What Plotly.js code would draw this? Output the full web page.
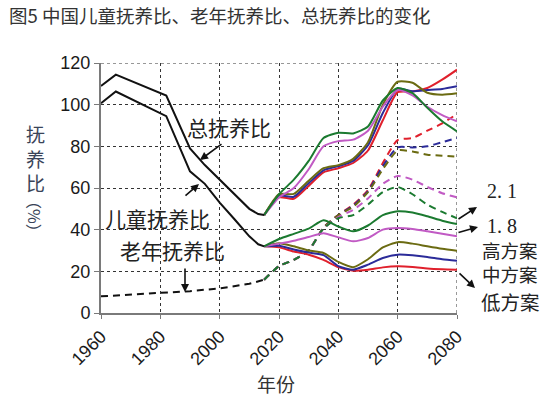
<!DOCTYPE html>
<html>
<head>
<meta charset="utf-8">
<script src="https://cdn.plot.ly/plotly-3.0.1.min.js"></script>
<style>html,body{margin:0;padding:0;background:#fff;}#chart{width:555px;height:398px;}</style>
</head>
<body>
<div id="chart"></div>
<script>
// ---- historical data ----
const histYears = [1960, 1965, 1982, 1990, 1995, 2000, 2005, 2010, 2013, 2015];
const histTotal = [109, 114.4, 104.4, 79, 71, 64, 57, 50, 47.5, 47];
const histChild = [100.7, 106.3, 94.5, 68, 62, 53, 45, 36.8, 33, 32];
const oldYears  = [1960, 1970, 1982, 1990, 2000, 2005, 2010, 2015];
const histOld   = [8, 8.8, 9.8, 10.5, 11.8, 12.8, 14, 16];

// ---- projections ----
const projYears = [2015, 2020, 2025, 2030, 2035, 2040, 2045, 2050, 2055, 2060, 2065, 2070, 2075, 2080];
const scenarioNames  = ['低方案', '中方案', '高方案', '1.8', '2.1'];
const scenarioColors = ['#e0202c', '#2b2b99', '#6b6b12', '#c15ac4', '#1b7a30'];

const totalLow  = [47, 55.5, 54.8, 61, 67.5, 69.5, 72, 78, 92.5, 106, 106.3, 108, 112, 116.8];
const totalMid  = [47, 56.3, 55.8, 62.3, 68.5, 70.5, 73, 80.5, 96, 107.5, 106.5, 107, 107.5, 108.8];
const totalHigh = [47, 57, 57.2, 63.5, 69.5, 71, 74, 82, 100, 111, 110.5, 105.7, 104.8, 105.5];
const total18   = [47, 55.5, 60, 69, 80, 82.5, 83.2, 87.5, 99, 107, 104.5, 99, 95, 92];
const total21   = [47, 57, 64, 73, 84, 86.5, 86.2, 89.5, 102, 108, 105.5, 98.5, 92, 87.2];

const childLow  = [32, 31.5, 29.5, 28, 25.5, 22, 20.3, 20.8, 21.9, 22.4, 22.1, 21.4, 21, 20.8];
const childMid  = [32, 32.3, 30.5, 29, 27.8, 22.5, 20.8, 23.2, 26.4, 28, 27.7, 26.9, 25.8, 25.1];
const childHigh = [32, 33.5, 32, 30, 28.8, 24.5, 22, 25.8, 31.5, 34, 33.3, 32, 30.8, 29.9];
const child18   = [32, 33.3, 34.7, 36.5, 38.3, 36.3, 34.4, 36, 40, 40.8, 40.3, 39.2, 38, 36.8];
const child21   = [32, 35.5, 38, 40.5, 44.5, 41.5, 39.2, 42, 47, 48.8, 48.2, 46.4, 44.3, 42.7];

const oldLow  = [16, 22.5, 25.5, 30, 41, 47, 52, 59, 72, 83, 84, 87.5, 91, 95.5];
const oldMid  = [16, 22.5, 25.5, 30, 41, 47, 51.5, 58.5, 70.5, 79.5, 79.5, 80, 82, 84];
const oldHigh = [16, 22.5, 25.5, 30, 41, 47, 51, 58, 69, 78, 77.5, 76, 75.5, 75];
const old18   = [16, 22.5, 25.5, 30, 40.5, 46, 49.5, 55, 62, 65.8, 64, 60.5, 57.5, 55.5];
const old21   = [16, 22.5, 25.5, 30, 40.5, 45.5, 47, 52, 58, 60.5, 57, 52, 48.5, 45.5];

const totals = [totalLow, totalMid, totalHigh, total18, total21];
const childs = [childLow, childMid, childHigh, child18, child21];
const olds   = [oldLow, oldMid, oldHigh, old18, old21];

const traces = [];
traces.push({x: oldYears, y: histOld, mode: 'lines', line: {color: '#111', width: 2, dash: '7px,5px'}, hoverinfo: 'skip'});
for (let i = 0; i < 5; i++) {
  traces.push({x: projYears, y: olds[i], mode: 'lines', line: {color: scenarioColors[i], width: 2, dash: '7px,5px', shape: 'spline', smoothing: 0.6}, name: scenarioNames[i]});
}
for (let i = 0; i < 5; i++) {
  traces.push({x: projYears, y: childs[i], mode: 'lines', line: {color: scenarioColors[i], width: 2, shape: 'spline', smoothing: 0.6}, name: scenarioNames[i]});
  traces.push({x: projYears, y: totals[i], mode: 'lines', line: {color: scenarioColors[i], width: 2, shape: 'spline', smoothing: 0.6}, name: scenarioNames[i]});
}
traces.push({x: histYears, y: histTotal, mode: 'lines', line: {color: '#111', width: 2}});
traces.push({x: histYears, y: histChild, mode: 'lines', line: {color: '#111', width: 2}});

// pixel -> paper helpers (plot area: x 101..457, y 63..313)
const L = 101, R = 457, T = 63, B = 313;
const px = x => (x - L) / (R - L);
const py = y => (B - y) / (B - T);

const cjk = '"Noto Sans CJK SC", "Noto Sans", sans-serif';
function label(text, cx, cy, size, extra) {
  return Object.assign({xref: 'paper', yref: 'paper', x: px(cx), y: py(cy), text: text, showarrow: false,
    xanchor: 'center', yanchor: 'middle', font: {family: cjk, size: size, color: '#222'}}, extra || {});
}
function arrow(tx, ty, hx, hy) {
  return {xref: 'paper', yref: 'paper', x: px(hx), y: py(hy), ax: tx - hx, ay: ty - hy, text: '',
    showarrow: true, arrowhead: 2, arrowsize: 1, arrowwidth: 1.6, arrowcolor: '#111', standoff: 0, startstandoff: 0};
}

const annotations = [
  {xref: 'paper', yref: 'paper', x: px(7), y: py(15), xanchor: 'left', yanchor: 'middle', showarrow: false,
   text: '图5 中国儿童抚养比、老年抚养比、总抚养比的变化', font: {family: cjk, size: 18.5, color: '#333'}},
  label('总抚养比', 229, 127, 21),
  label('儿童抚养比', 157, 218, 21),
  label('老年抚养比', 172, 250, 21),
  label('2. 1', 502, 191, 20, {font: {family: '"Liberation Serif", serif', size: 20, color: '#222'}}),
  label('1. 8', 502, 226, 20, {font: {family: '"Liberation Serif", serif', size: 20, color: '#222'}}),
  label('高方案<br>中方案', 510, 262, 18.5),
  label('低方案', 510, 301, 19.5),
  label('年份', 276, 383, 19, {font: {family: cjk, size: 19, color: '#333'}}),
  label('抚<br>养<br>比', 35, 158, 19, {font: {family: cjk, size: 19, color: '#3a4458'}}),
  label('（%）', 35, 216, 16, {textangle: 90, font: {family: cjk, size: 16, color: '#3a4458'}}),
  arrow(223, 143, 200, 160),
  arrow(184, 197, 199, 184),
  arrow(185, 267, 185, 292),
  arrow(457, 220, 477, 207),
  arrow(457, 233, 478, 227),
  arrow(458, 272, 475, 288)
];

const layout = {
  width: 555, height: 398,
  margin: {l: L, r: 555 - R, t: T, b: 398 - B, pad: 0},
  paper_bgcolor: '#fff', plot_bgcolor: '#fff',
  showlegend: false,
  xaxis: {range: [1960, 2080], tickmode: 'linear', tick0: 1960, dtick: 20, tickangle: -45,
    showgrid: true, gridcolor: '#333', griddash: 'dot', gridwidth: 1,
    showline: true, linecolor: '#7a7a7a', linewidth: 2, zeroline: false,
    ticks: 'outside', ticklen: 4, tickcolor: '#7a7a7a',
    tickfont: {family: '"Liberation Sans", Arial, sans-serif', size: 18, color: '#1a1a1a'}},
  yaxis: {range: [0, 120], tickmode: 'linear', tick0: 0, dtick: 20,
    showgrid: true, gridcolor: '#333', griddash: 'dot', gridwidth: 1,
    showline: true, linecolor: '#7a7a7a', linewidth: 2, zeroline: false,
    ticks: 'outside', ticklen: 5, tickcolor: '#7a7a7a',
    tickfont: {family: '"Liberation Sans", Arial, sans-serif', size: 18, color: '#1a1a1a'}},
  shapes: [
    {type: 'line', xref: 'x', yref: 'y', x0: 2080, x1: 2080, y0: 0, y1: 120, layer: 'below',
     line: {color: '#333', width: 1, dash: 'dot'}},
    {type: 'line', xref: 'x', yref: 'y', x0: 1960, x1: 2080, y0: 120, y1: 120, layer: 'below',
     line: {color: '#333', width: 1, dash: 'dot'}}
  ],
  annotations: annotations
};

Plotly.newPlot('chart', traces, layout, {staticPlot: true, displayModeBar: false});
</script>
</body>
</html>
